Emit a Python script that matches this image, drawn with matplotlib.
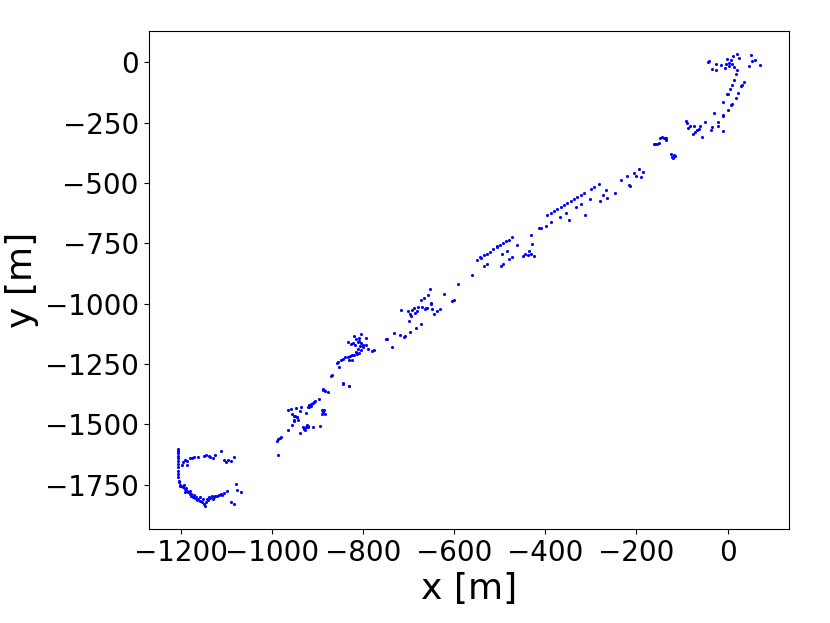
import numpy as np
import matplotlib
matplotlib.use("Agg")
import matplotlib.pyplot as plt

# trajectory points [m], grouped along the path
seg_start = [
    (-1207, -1602), (-1207, -1609), (-1207, -1618), (-1207, -1629), (-1207, -1640),
    (-1207, -1651), (-1207, -1664), (-1207, -1678), (-1207, -1692), (-1206, -1705),
    (-1206, -1719), (-1205, -1733), (-1204, -1740),
    (-1196, -1654), (-1192, -1646), (-1187, -1650), (-1181, -1640), (-1176, -1638),
    (-1171, -1636), (-1163, -1635), (-1150, -1629), (-1145, -1627), (-1139, -1629),
    (-1135, -1635), (-1130, -1640), (-1124, -1627), (-1112, -1610), (-1106, -1649),
    (-1101, -1654), (-1096, -1646), (-1091, -1650), (-1084, -1635), (-1197, -1668),
    (-1187, -1670),
    (-1203, -1751), (-1201, -1757), (-1199, -1754), (-1196, -1761), (-1194, -1751),
    (-1192, -1768), (-1189, -1765), (-1187, -1774), (-1184, -1781), (-1181, -1788),
    (-1179, -1774), (-1177, -1795), (-1174, -1802), (-1172, -1792), (-1170, -1806),
    (-1167, -1799), (-1162, -1809), (-1159, -1802), (-1157, -1816), (-1154, -1820),
    (-1150, -1830), (-1148, -1839), (-1145, -1823), (-1142, -1809), (-1139, -1802),
    (-1135, -1806), (-1131, -1798), (-1128, -1802), (-1124, -1795), (-1120, -1798),
    (-1117, -1792), (-1113, -1788), (-1109, -1792), (-1106, -1784), (-1098, -1774),
    (-1091, -1823), (-1084, -1830), (-1080, -1747), (-1076, -1770), (-1067, -1779),
    (-1190, -1780), (-1178, -1790), (-1165, -1812), (-1152, -1808), (-1140, -1815),
    (-1130, -1810),
]

seg_900 = [
    (-987, -1625), (-990, -1570), (-987, -1562), (-983, -1556), (-980, -1551),
    (-964, -1523), (-955, -1501), (-951, -1481), (-949, -1467), (-951, -1487),
    (-946, -1470), (-942, -1481), (-944, -1468), (-957, -1456), (-951, -1464),
    (-964, -1440), (-959, -1436), (-948, -1432), (-939, -1445), (-936, -1429),
    (-926, -1454), (-922, -1426), (-918, -1418), (-915, -1415), (-911, -1412),
    (-907, -1408), (-905, -1404), (-918, -1426), (-915, -1422), (-896, -1394),
    (-889, -1356), (-883, -1360), (-878, -1364), (-845, -1332), (-832, -1339),
    (-891, -1440), (-885, -1440), (-891, -1457), (-883, -1457), (-888, -1450),
    (-939, -1537), (-930, -1519), (-926, -1512), (-922, -1505), (-920, -1512),
    (-927, -1523), (-924, -1501), (-911, -1509), (-895, -1505), (-932, -1509),
]

seg_800 = [
    (-819, -1132), (-805, -1125), (-816, -1146), (-808, -1142), (-794, -1142),
    (-834, -1159), (-827, -1166), (-823, -1164), (-817, -1169), (-812, -1159),
    (-808, -1153), (-805, -1164), (-801, -1169), (-807, -1177), (-801, -1180),
    (-794, -1173), (-790, -1187), (-812, -1187), (-805, -1191), (-816, -1201),
    (-781, -1197), (-775, -1191),
    (-858, -1247), (-854, -1242), (-849, -1235), (-845, -1229), (-839, -1222),
    (-834, -1219), (-829, -1215), (-825, -1211), (-819, -1211), (-814, -1208),
    (-808, -1205), (-832, -1233), (-825, -1233), (-853, -1260), (-871, -1298),
    (-869, -1294), (-844, -1329), (-832, -1339), (-889, -1353), (-886, -1357),
]

seg_650 = [
    (-750, -1148), (-748, -1146), (-737, -1180), (-733, -1121), (-720, -1129),
    (-711, -1139), (-709, -1135), (-698, -1118), (-684, -1102), (-673, -1084),
    (-717, -1025), (-700, -1072), (-702, -1031), (-698, -1042), (-695, -1049),
    (-692, -1028), (-689, -1016), (-687, -1038), (-682, -1032), (-679, -1014),
    (-670, -1012), (-665, -1021), (-662, -1017), (-659, -1019), (-652, -1001),
    (-650, -996), (-648, -1021), (-645, -1042), (-637, -1031), (-631, -1021),
    (-673, -983), (-667, -977), (-658, -962), (-654, -938), (-622, -959),
    (-604, -987), (-600, -983), (-592, -920),
]

seg_500 = [
    (-562, -879), (-549, -817), (-544, -807), (-542, -810), (-535, -800),
    (-529, -793), (-522, -784), (-515, -775), (-507, -766), (-505, -762),
    (-499, -756), (-493, -748), (-487, -741), (-480, -734), (-473, -724),
    (-463, -755), (-484, -780), (-496, -796), (-474, -807), (-480, -814),
    (-493, -835), (-498, -842), (-528, -835), (-535, -842), (-449, -803),
    (-444, -793), (-435, -780), (-438, -800), (-432, -793), (-425, -803),
    (-430, -752),
]

seg_300 = [
    (-432, -717), (-413, -687), (-410, -688), (-399, -676), (-388, -663),
    (-396, -634), (-388, -624), (-381, -617), (-374, -609), (-366, -600),
    (-359, -593), (-352, -583), (-344, -575), (-337, -565), (-330, -556),
    (-322, -549), (-315, -540), (-300, -524), (-293, -517), (-283, -506),
    (-368, -639), (-355, -624), (-347, -655), (-333, -600), (-322, -586),
    (-313, -634), (-302, -565), (-280, -576), (-274, -551), (-267, -527),
    (-264, -561), (-248, -540), (-234, -489), (-221, -473), (-217, -510),
    (-215, -513), (-205, -457), (-200, -469), (-195, -444), (-190, -475),
    (-186, -453),
]

seg_100 = [
    (-162, -337), (-159, -337), (-155, -337), (-151, -336), (-148, -312),
    (-144, -310), (-140, -312), (-137, -315), (-134, -312), (-135, -321),
    (-124, -379), (-122, -393), (-120, -395), (-117, -386), (-115, -390),
    (-92, -243), (-90, -252), (-87, -271), (-82, -265), (-73, -264),
    (-71, -289), (-67, -279), (-63, -275), (-60, -263), (-76, -299),
    (-56, -310), (-49, -249), (-36, -279), (-34, -268), (-29, -210),
    (-21, -249), (-21, -264),
]

seg_end = [
    (-9, -285), (-9, -220), (-10, -224), (1, -199), (8, -175), (10, -171),
    (-10, -164), (18, -147), (23, -127), (30, -98), (32, -93), (36, -80),
    (-1, -132), (1, -130), (5, -112), (10, -95), (14, -72), (18, -50),
    (20, -30), (14, -19), (25, 18), (21, 36), (12, 26), (7, 8), (3, -1),
    (-1, 12), (-3, -6), (9, -6), (4, -15), (-6, -23), (-15, -12), (-26, -8),
    (-25, -33), (-34, -26), (-43, 1), (-41, 6), (51, 29), (54, 4), (60, 8),
    (47, -17), (71, -12),
]

pts = np.array(seg_start + seg_900 + seg_800 + seg_650 + seg_500
               + seg_300 + seg_100 + seg_end, dtype=float)

fig = plt.figure(figsize=(8.3, 6.23), dpi=100)
ax = fig.add_axes([0.179, 0.151, 0.7716, 0.7993])

ax.scatter(pts[:, 0], pts[:, 1], s=5, c="blue", linewidths=0)

ax.set_xticks([-1200, -1000, -800, -600, -400, -200, 0])
ax.set_yticks([0, -250, -500, -750, -1000, -1250, -1500, -1750])
ax.tick_params(labelsize=20)
ax.set_xlabel("x [m]", fontsize=26)
ax.set_ylabel("y [m]", fontsize=26)

fig.savefig("out.png", dpi=100)
